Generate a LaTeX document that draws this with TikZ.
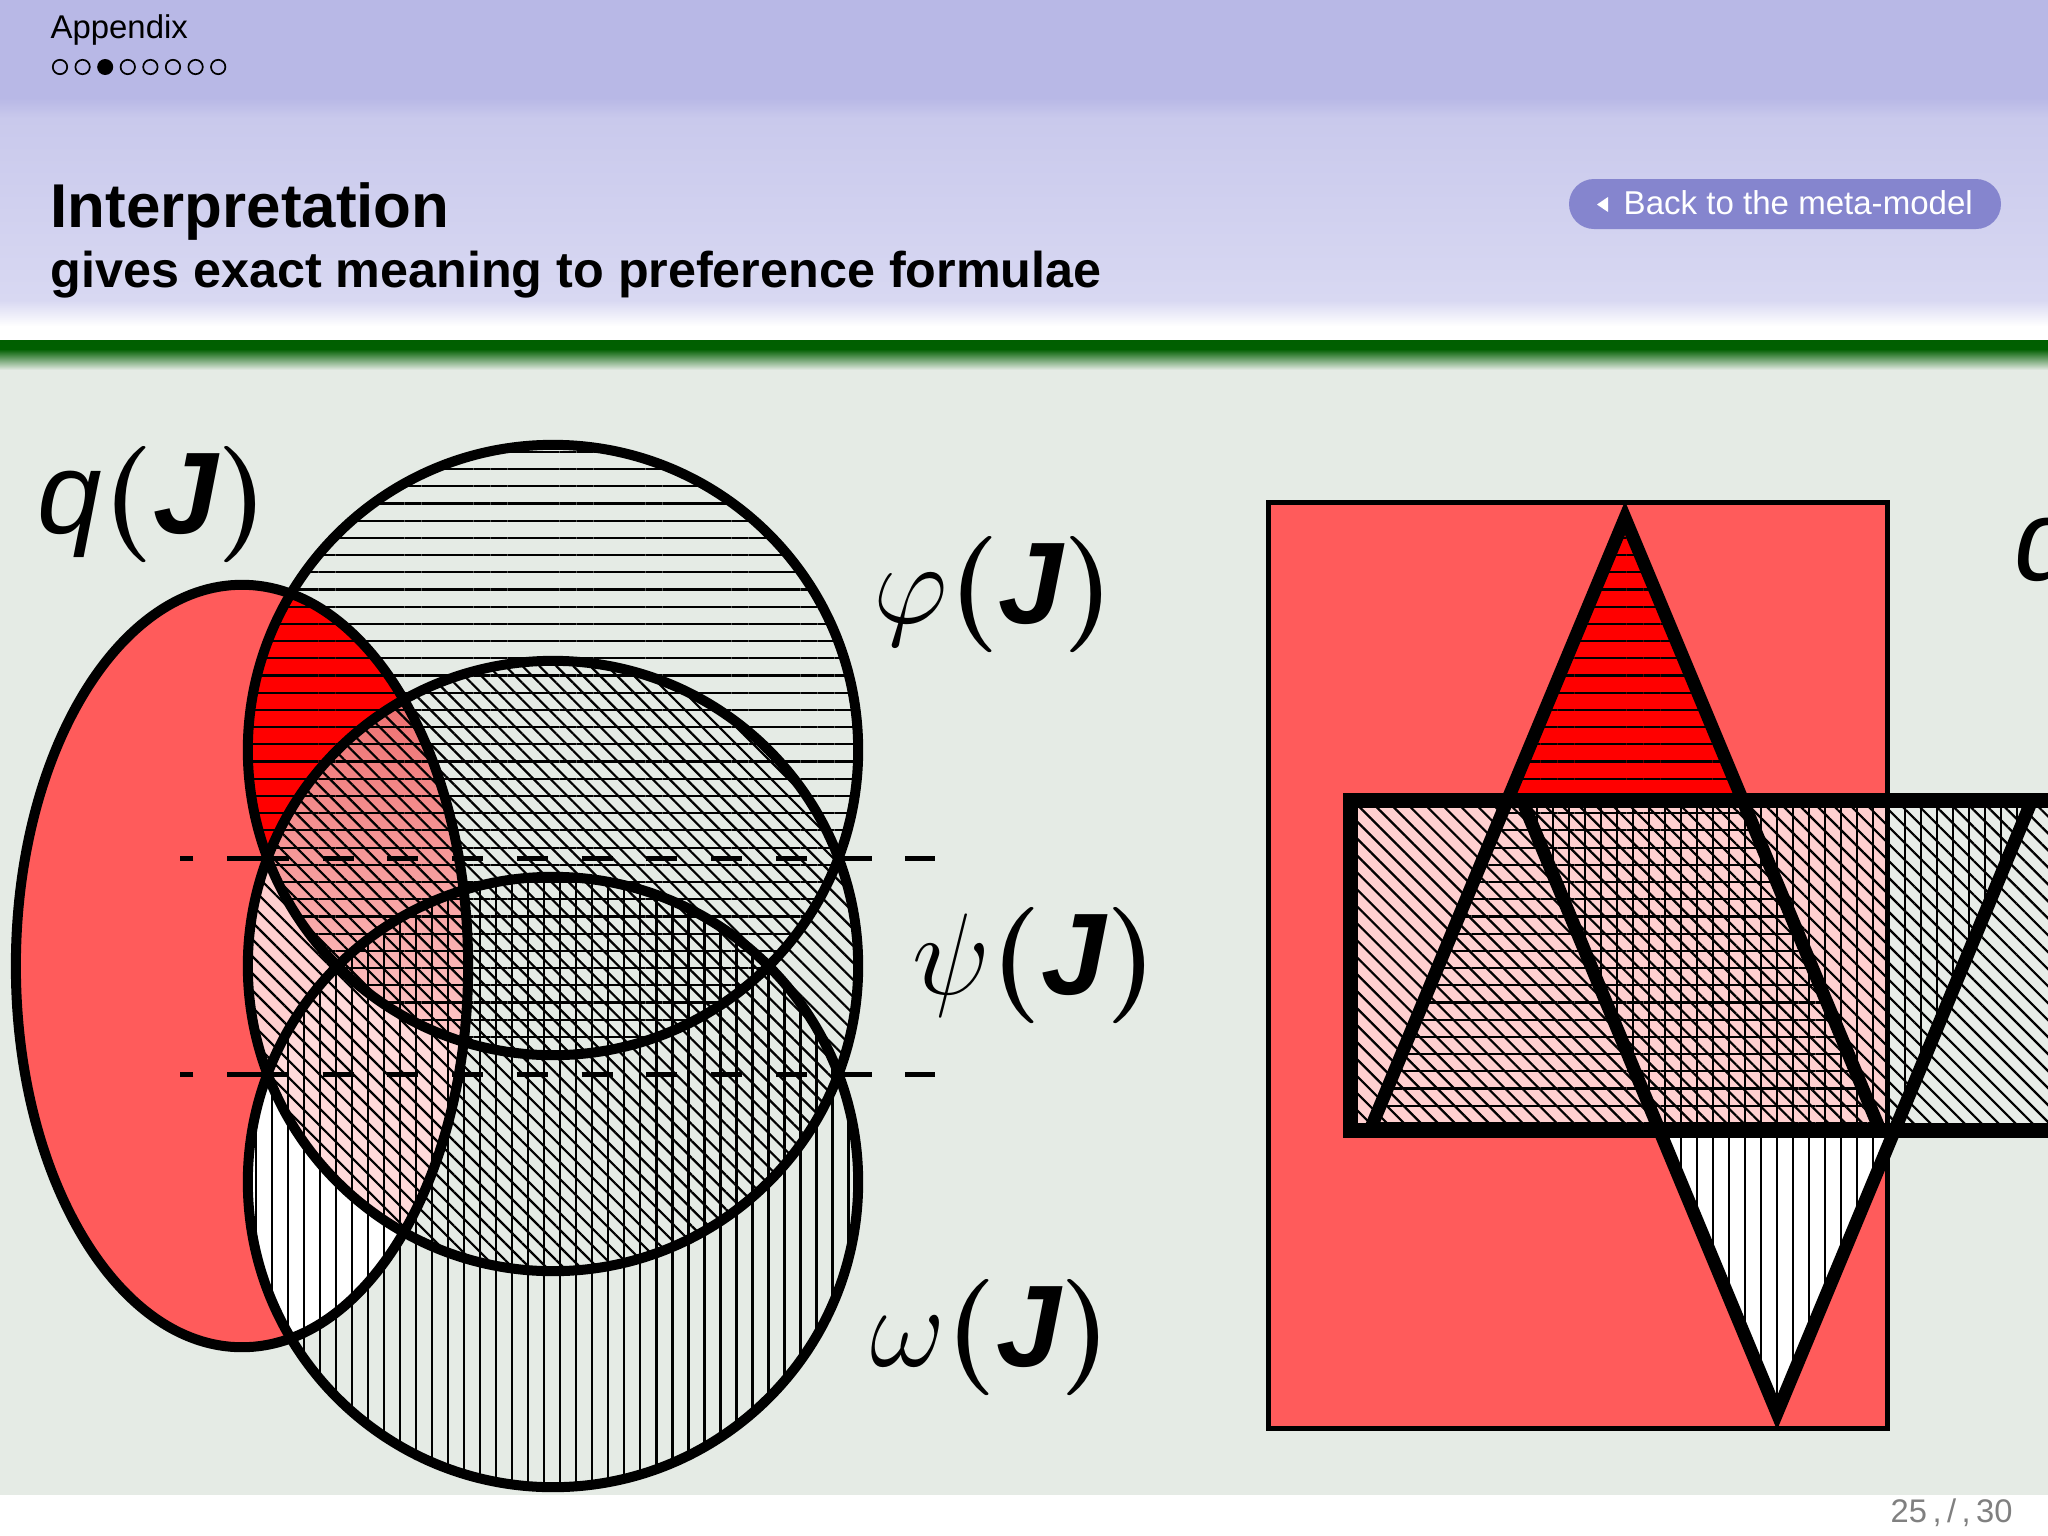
\RequirePackage{fix-cm}
\documentclass[tikz,border=0pt]{standalone}
\usepackage[no-math]{fontspec}
\setmainfont{Liberation Sans}
\usetikzlibrary{patterns.meta}
\definecolor{bandA}{RGB}{184,184,230}
\definecolor{bandB}{RGB}{201,201,236}
\definecolor{bandC}{RGB}{216,216,242}
\definecolor{greenline}{RGB}{0,95,0}
\definecolor{bgc}{RGB}{229,235,229}
\definecolor{barbg}{RGB}{232,237,232}
\definecolor{qred}{RGB}{255,91,91}
\definecolor{fred}{RGB}{255,0,0}
\definecolor{pinkA}{RGB}{255,208,208}
\definecolor{pinkB}{RGB}{255,218,218}
\definecolor{gradA}{RGB}{238,112,112}
\definecolor{gradB}{RGB}{255,205,205}
\definecolor{btncol}{RGB}{133,133,206}
\definecolor{pagegray}{RGB}{128,128,128}
\newcommand{\bpar}[1]{{\usefont{OT1}{cmr}{bx}{n}#1}}
\newcommand{\lbl}[1]{$#1$\bpar{(}{\bfseries\itshape J}\bpar{)}}
\begin{document}
\begin{tikzpicture}[x=0.01cm,y=-0.01cm,
  outl/.style={line width=0.1cm},
  triline/.style={line width=0.13cm,line join=miter},
  barline/.style={line width=0.15cm,line join=miter},
  rectline/.style={line width=0.05cm},
  hatchH/.style={pattern={Lines[angle=0,distance=0.172cm,line width=0.022cm]},pattern color=black},
  hatchV/.style={pattern={Lines[angle=90,distance=0.16cm,line width=0.022cm]},pattern color=black},
  hatchD/.style={pattern={Lines[angle=-45,distance=0.12cm,line width=0.022cm]},pattern color=black},
  dashline/.style={line width=0.05cm,dash pattern=on 0.31cm off 0.337cm},
  lab/.style={anchor=base west,inner sep=0pt,font=\fontsize{33pt}{40pt}\selectfont},
  hdr/.style={anchor=base west,inner sep=0pt}
]
\useasboundingbox (0,0) rectangle (2048,1536);
% ---------- background ----------
\fill[white] (0,0) rectangle (2048,1536);
\fill[bandA] (0,0) rectangle (2048,98);
\shade[top color=bandA,bottom color=bandB] (0,98) rectangle (2048,118);
\shade[top color=bandB,bottom color=bandC] (0,118) rectangle (2048,300);
\shade[top color=bandC,bottom color=white] (0,300) rectangle (2048,326);
\fill[greenline] (0,340) rectangle (2048,349);
\shade[top color=greenline,bottom color=bgc] (0,349) rectangle (2048,370);
\fill[bgc] (0,370) rectangle (2048,1495);
% ---------- header ----------
\node[hdr,font=\fontsize{9.35pt}{11pt}\selectfont] (sec) at (50,38) {Appendix};
\foreach \i in {0,1,3,4,5,6,7}{
  \draw[line width=0.017cm] ({60+22.6*\i},67) circle [radius=0.072cm];
}
\fill ({60+22.6*2},67) circle [radius=0.08cm];
\node[hdr,font=\fontsize{17.6pt}{20pt}\selectfont\bfseries] (title) at (50,227) {Interpretation};
\node[hdr,font=\fontsize{14.3pt}{17pt}\selectfont\bfseries] (subtitle) at (50,287) {gives exact meaning to preference formulae};
\fill[btncol,rounded corners=0.25cm] (1569,179) rectangle (2001,229);
\fill[white] (1597,204.5) -- (1608,197) -- (1608,212) -- cycle;
\node[hdr,text=white,font=\fontsize{9.4pt}{11pt}\selectfont] (back) at (1623,214) {Back to the meta-model};
\node[hdr,text=pagegray,font=\fontsize{9.3pt}{11pt}\selectfont] (page) at (1890,1522) {25\,,\,/\,,\,30};
% ---------- left Venn diagram ----------
\fill[qred] (242,966) ellipse [x radius=2.26cm,y radius=3.81cm];
\begin{scope}
  \clip (242,966) ellipse [x radius=2.26cm,y radius=3.81cm];
  \fill[white] (553,1182) circle [radius=3.05cm];
  \fill[pinkA] (553,966) circle [radius=3.05cm];
  \begin{scope}
    \clip (553,966) circle [radius=3.05cm];
    \fill[pinkB] (553,1182) circle [radius=3.05cm];
  \end{scope}
  \fill[fred] (553,750) circle [radius=3.05cm];
  \clip (553,750) circle [radius=3.05cm];
  \clip (553,966) circle [radius=3.05cm];
  \shade[top color=gradA,bottom color=gradB] (0,700) rectangle (900,1060);
\end{scope}
\path[hatchH] (553,750) circle [radius=3.05cm];
\path[hatchD] (553,966) circle [radius=3.05cm];
\path[hatchV] (553,1182) circle [radius=3.05cm];
\coordinate (d1m) at (258,858); \coordinate (d1r) at (935,858); \coordinate (d1l) at (180,858);
\coordinate (d2m) at (258,1074); \coordinate (d2r) at (935,1074); \coordinate (d2l) at (180,1074);
\draw[dashline] (d1m) -- (d1l);
\draw[dashline] (d1m) -- (d1r);
\draw[dashline] (d2m) -- (d2l);
\draw[dashline] (d2m) -- (d2r);
\draw[outl] (242,966) ellipse [x radius=2.26cm,y radius=3.81cm];
\draw[outl] (553,750) circle [radius=3.05cm];
\draw[outl] (553,966) circle [radius=3.05cm];
\draw[outl] (553,1182) circle [radius=3.05cm];
\node[lab] (qL) at (37,533) {{\itshape q}\lbl{}};
\node[lab] (phiL) at (873,623) {\lbl{\varphi}};
\node[lab] (psiL) at (912,994) {\lbl{\psi}};
\node[lab] (omL) at (870,1366) {\lbl{\omega}};
% ---------- right diagram ----------
\fill[qred] (1268,502) rectangle (1887,1428);
\fill[fred] (1625,518) -- (1370,1130) -- (1880,1130) -- cycle;
\begin{scope}
  \clip (1268,502) rectangle (1887,1428);
  \fill[white] (1522,800) -- (2032,800) -- (1777,1413) -- cycle;
\end{scope}
\fill[barbg] (1350,800) rectangle (2200,1130);
\begin{scope}
  \clip (1268,502) rectangle (1887,1428);
  \fill[pinkA] (1350,800) rectangle (2200,1130);
\end{scope}
\path[hatchH] (1625,518) -- (1370,1130) -- (1880,1130) -- cycle;
\path[hatchV] (1522,800) -- (2032,800) -- (1777,1413) -- cycle;
\path[hatchD] (1350,800) rectangle (2200,1130);
\draw[rectline] (1268,502) rectangle (1887,1428);
\draw[triline] (1625,518) -- (1370,1130) -- (1880,1130) -- cycle;
\draw[triline] (1522,800) -- (2032,800) -- (1777,1413) -- cycle;
\draw[barline] (1350,800) rectangle (2200,1130);
\node[lab] (qR) at (2014,580) {{\itshape q}\lbl{}};
\end{tikzpicture}
\end{document}
